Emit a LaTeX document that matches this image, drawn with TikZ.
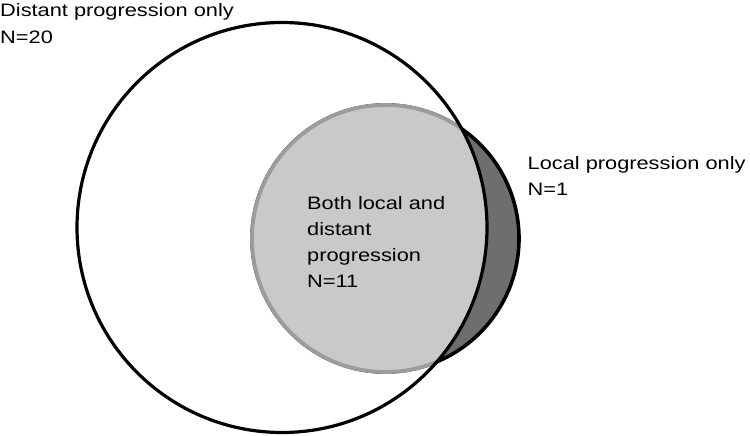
\documentclass[tikz,border=0pt]{standalone}
\usepackage{fontspec}
\newfontfamily\labfont[FakeStretch=1.21]{Liberation Sans}
\definecolor{lightfill}{HTML}{C9C9C9}
\definecolor{darkfill}{HTML}{6E6E6E}
\definecolor{grayline}{HTML}{9C9C9C}
\begin{document}
\begin{tikzpicture}[x=1pt,y=-1pt,
  lbl/.style={anchor=base west,inner sep=0pt,font=\labfont\fontsize{18}{26}\selectfont},
  bigline/.style={draw=black,line width=3.2pt},
  smallouter/.style={draw=black,line width=3.6pt},
  smallinner/.style={draw=grayline,line width=3.8pt}]
\useasboundingbox (0,0) rectangle (750,436);
\fill[white] (0,0) rectangle (750,436);
\coordinate (bigc) at (282,227.5);
\coordinate (smc) at (385.5,238.5);
% local-only part (whole small circle first, dark)
\fill[darkfill] (smc) circle[radius=133.5];
\draw[smallouter] (smc) circle[radius=133.5];
% intersection part
\begin{scope}
  \clip (bigc) circle[radius=205];
  \fill[lightfill] (smc) circle[radius=133.5];
  \draw[smallinner] (smc) circle[radius=133.5];
\end{scope}
% distant circle outline
\draw[bigline] (bigc) circle[radius=205];
% labels
\node[lbl] (d1) at (0,16.5) {Distant progression only};
\node[lbl] (d2) at (0,43.3) {N=20};
\node[lbl] (l1) at (527.5,169) {Local progression only};
\node[lbl] (l2) at (527.5,195.5) {N=1};
\node[lbl] (b1) at (307,209) {Both local and};
\node[lbl] (b2) at (307,235) {distant};
\node[lbl] (b3) at (307,261) {progression};
\node[lbl] (b4) at (307,287.5) {N=11};
\end{tikzpicture}
\end{document}
